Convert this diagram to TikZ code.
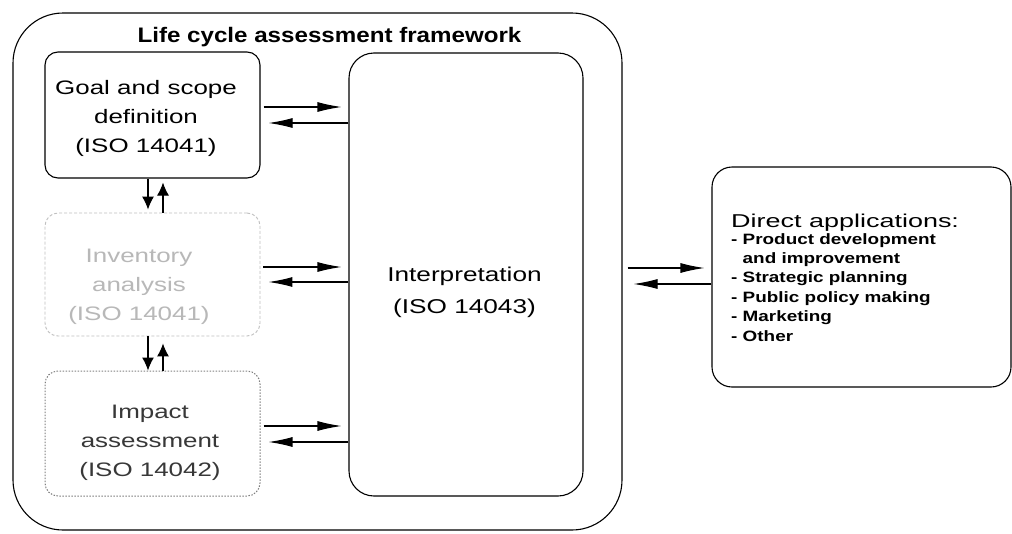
\documentclass[tikz,border=0pt]{standalone}
\usepackage{fontspec}
\setmainfont{Liberation Sans}
\newfontfamily\boxfont[FakeStretch=1.33]{Liberation Sans}
\newfontfamily\titlefont[FakeStretch=1.15]{Liberation Sans}
\newfontfamily\interpfont[FakeStretch=1.31]{Liberation Sans}
\newfontfamily\headfont[FakeStretch=1.45]{Liberation Sans}
\newfontfamily\listfont[FakeStretch=1.26]{Liberation Sans}
\usetikzlibrary{arrows.meta,calc}
\definecolor{invgray}{gray}{0.72}
\definecolor{invline}{gray}{0.75}
\definecolor{impgray}{gray}{0.22}
\definecolor{impline}{gray}{0.5}
\begin{document}
\begin{tikzpicture}[x=1pt,y=-1pt,
  boxbase/.style={rectangle, inner sep=0pt, line width=1.1pt},
  solidbox/.style={boxbase, draw=black},
  harr/.style={line width=1.1pt, -{Latex[length=24pt,width=10pt]}},
  varr/.style={line width=1.1pt, -{Latex[length=13pt,width=12pt]}},
  boxtext/.style={font=\boxfont\fontsize{19.5}{29}\selectfont, align=center, inner sep=0pt}
]
\useasboundingbox (0,0) rectangle (1012,533);
\fill[white] (0,0) rectangle (1012,533);

% outer frame
\node[solidbox, rounded corners=50pt, minimum width=609pt, minimum height=517pt] (frame) at (317.5,271.5) {};
\node[font=\titlefont\bfseries\fontsize{21}{25}\selectfont, anchor=base, inner sep=0pt] (title) at (329.5,42) {Life cycle assessment framework};

% left boxes
\node[solidbox, rounded corners=13pt, minimum width=215pt, minimum height=126pt] (goal) at (152.5,115) {};
\node[boxbase, draw=invline, dash pattern=on 3pt off 2pt, line width=0.9pt, rounded corners=13pt, minimum width=215pt, minimum height=123pt] (inv) at (152.5,274.5) {};
\node[boxbase, draw=impline, dash pattern=on 1.5pt off 1.5pt, line width=1pt, rounded corners=13pt, minimum width=215pt, minimum height=125pt] (imp) at (152.5,433.5) {};

\node[boxtext] (goaltxt) at (146,118) {Goal and scope\\definition\\(ISO 14041)};
\node[boxtext, text=invgray] (invtxt) at (139,287) {Inventory\\analysis\\(ISO 14041)};
\node[boxtext, text=impgray] (imptxt) at (150,443) {Impact\\assessment\\(ISO 14042)};

% interpretation
\node[solidbox, rounded corners=25pt, minimum width=234pt, minimum height=443pt] (interp) at (466,274.5) {};
\node[font=\interpfont\fontsize{20}{32}\selectfont, align=center, inner sep=0pt] (interptxt) at (464.5,292) {Interpretation\\(ISO 14043)};

% direct applications
\node[solidbox, rounded corners=20pt, minimum width=299pt, minimum height=220pt] (direct) at (861.5,277) {};
\node[font=\headfont\fontsize{18.6}{22}\selectfont, anchor=base west, inner sep=0pt] (dirhead) at (731,227) {Direct applications:};
\node[font=\listfont\bfseries\fontsize{15}{19.4}\selectfont, align=left, anchor=north west, inner sep=0pt] (dirlist) at (731,233)
  {- Product development\\\hspace*{11.5pt}and improvement\\- Strategic planning\\- Public policy making\\- Marketing\\- Other};

% horizontal arrows left boxes <-> interpretation
\draw[harr] ($(goal.east)+(3,-8)$) -- ($(goal.east -| interp.west)+(-7,-8)$);
\draw[harr] ($(goal.east -| interp.west)+(0,8)$) -- ($(goal.east)+(8,8)$);
\draw[harr] ($(inv.east)+(3,-7.5)$) -- ($(inv.east -| interp.west)+(-7,-7.5)$);
\draw[harr] ($(inv.east -| interp.west)+(0,7.5)$) -- ($(inv.east)+(8,7.5)$);
\draw[harr] ($(imp.east)+(3,-7.5)$) -- ($(imp.east -| interp.west)+(-7,-7.5)$);
\draw[harr] ($(imp.east -| interp.west)+(0,8.5)$) -- ($(imp.east)+(8,8.5)$);

% vertical arrows
\draw[varr] ($(goal.south)+(-4.5,0)$) -- ($(inv.north)+(-4.5,-3)$);
\draw[varr] ($(inv.north)+(10.5,0)$) -- ($(goal.south)+(10.5,4)$);
\draw[varr] ($(inv.south)+(-4.5,0)$) -- ($(imp.north)+(-4.5,0)$);
\draw[varr] ($(imp.north)+(10.5,0)$) -- ($(inv.south)+(10.5,7)$);

% frame <-> direct applications
\draw[harr] ($(frame.east |- direct.west)+(5,-9)$) -- ($(direct.west)+(-7,-9)$);
\draw[harr] ($(direct.west)+(0,7)$) -- ($(frame.east |- direct.west)+(11,7)$);
\end{tikzpicture}
\end{document}
